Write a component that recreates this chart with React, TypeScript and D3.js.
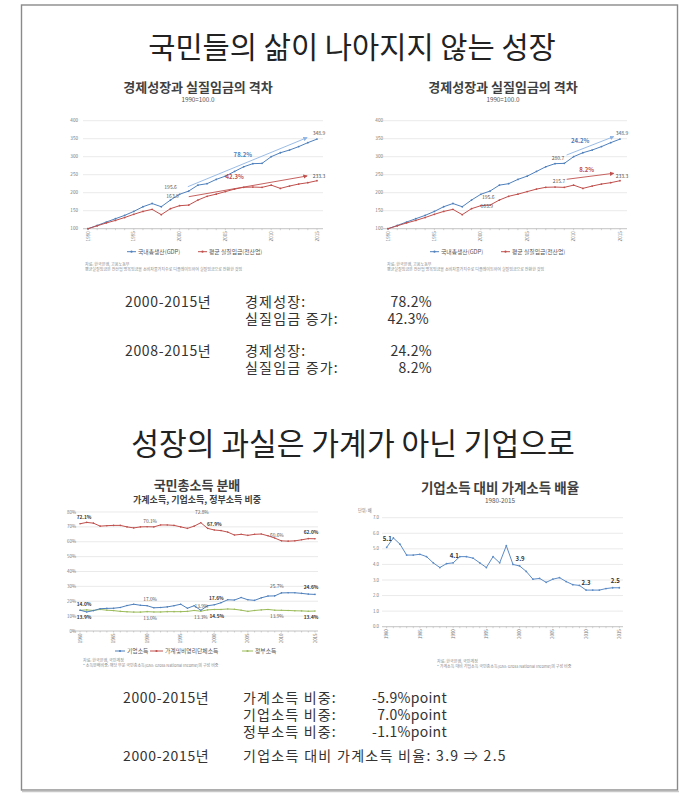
import React from "react";
import * as d3 from "d3";

const FONT = "'Noto Sans CJK KR','Noto Sans',sans-serif";

// ---------- Data: 경제성장과 실질임금 (1990=100) ----------
const indexYears = [1990, 1991, 1992, 1993, 1994, 1995, 1996, 1997, 1998, 1999, 2000, 2001, 2002, 2003, 2004, 2005, 2006, 2007, 2008, 2009, 2010, 2011, 2012, 2013, 2014, 2015];
const gdpIndex = [100, 109, 118.5, 127.8, 137, 148, 161, 170, 161, 179.6, 195.6, 204.6, 221, 225, 237, 246, 259, 272, 280.7, 281.5, 300, 311, 318.5, 328, 339, 348.9];
const wageIndex = [100, 108, 116, 123, 131, 140, 148, 153.7, 139, 155.6, 163.9, 165.7, 179.6, 190, 196, 203, 210, 215, 215.7, 214.8, 221, 212, 218.5, 224, 227.8, 233.3];
const indexTicks = [100, 150, 200, 250, 300, 350, 400];
const indexLabelYears = [1990, 1995, 2000, 2005, 2010, 2015];

// ---------- Data: 국민총소득 분배 (1980-2015) ----------
const shareYears = [1980, 1981, 1982, 1983, 1984, 1985, 1986, 1987, 1988, 1989, 1990, 1991, 1992, 1993, 1994, 1995, 1996, 1997, 1998, 1999, 2000, 2001, 2002, 2003, 2004, 2005, 2006, 2007, 2008, 2009, 2010, 2011, 2012, 2013, 2014, 2015];
const corpShare = [14.0, 12.8, 13.7, 15.0, 15.2, 15.3, 15.8, 17.1, 18.0, 17.3, 17.0, 15.6, 15.8, 16.2, 17.0, 18.0, 15.3, 17.0, 13.9, 17.0, 17.6, 19.0, 21.0, 20.8, 22.5, 21.0, 20.6, 22.3, 23.5, 23.6, 25.6, 25.7, 25.7, 25.3, 24.8, 24.6];
const householdShare = [72.1, 73.0, 72.5, 70.5, 70.8, 71.0, 71.0, 70.0, 69.3, 70.0, 70.1, 70.0, 71.3, 71.3, 71.0, 70.0, 69.0, 70.5, 72.8, 69.0, 67.9, 67.5, 66.5, 64.5, 65.0, 64.3, 65.0, 65.2, 64.0, 62.5, 60.6, 60.4, 60.6, 61.3, 62.1, 62.0];
const govShare = [13.9, 14.2, 13.8, 14.5, 14.0, 13.7, 13.2, 12.9, 12.7, 12.7, 13.0, 12.8, 12.8, 13.0, 13.0, 13.0, 13.2, 13.8, 13.3, 14.2, 14.5, 14.5, 14.8, 14.6, 14.0, 13.2, 13.8, 14.2, 14.5, 14.0, 13.9, 13.8, 13.6, 13.5, 13.3, 13.4];
const shareTicks = [0, 10, 20, 30, 40, 50, 60, 70, 80];

// ---------- Data: 기업소득 대비 가계소득 배율 ----------
const ratioValues = [5.1, 5.7, 5.3, 4.6, 4.6, 4.65, 4.5, 4.1, 3.8, 4.05, 4.1, 4.5, 4.5, 4.4, 4.1, 3.8, 4.5, 4.1, 5.2, 4.0, 3.9, 3.55, 3.05, 3.1, 2.85, 3.05, 3.15, 2.9, 2.7, 2.65, 2.35, 2.35, 2.35, 2.45, 2.5, 2.5];
const ratioTicks = [0, 1, 2, 3, 4, 5, 6, 7];
const longLabelYears = [1980, 1985, 1990, 1995, 2000, 2005, 2010, 2015];

// ---------- Colours ----------
const BLUE = "#4F81BD";
const RED = "#C0504D";
const GREEN = "#9BBB59";
const LIGHTBLUE = "#8EB4E3";

type Series = { values: number[]; color: string };
type PLabel = { year: number; value: number; text: string; dx: number; dy: number; color: string; bold?: boolean; size?: number };
type Arrow = { from: [number, number]; to: [number, number]; color: string; id: string };
type ALabel = { year: number; value: number; text: string; color: string };

type ChartProps = {
  years: number[];
  series: Series[];
  xRange: [number, number];
  yDomain: [number, number];
  yRange: [number, number];
  yTicks: number[];
  fmt: (v: number) => string;
  labelYears: number[];
  gridX: [number, number];
  yLabelX: number;
  tickSize: number;
  pointLabels: PLabel[];
  arrows?: Arrow[];
  arrowLabels?: ALabel[];
  marker: number;
};

function LineChart(p: ChartProps) {
  const x = d3.scaleLinear().domain([p.years[0], p.years[p.years.length - 1]]).range(p.xRange);
  const y = d3.scaleLinear().domain(p.yDomain).range(p.yRange);
  const line = d3
    .line<number>()
    .x((_, i) => x(p.years[i]))
    .y((d) => y(d));
  const axisY = y(p.yDomain[0]);
  return (
    <g fontFamily={FONT}>
      {p.yTicks.map((t) => (
        <g key={t}>
          {t !== p.yDomain[0] && (
            <line x1={p.gridX[0]} x2={p.gridX[1]} y1={y(t)} y2={y(t)} stroke="#dcdcdc" strokeWidth={0.6} />
          )}
          <text x={p.yLabelX} y={y(t) + 1.6} fontSize={p.tickSize} fill="#777" textAnchor="end">
            {p.fmt(t)}
          </text>
        </g>
      ))}
      <line x1={p.gridX[0]} x2={p.gridX[1]} y1={axisY} y2={axisY} stroke="#aaa" strokeWidth={0.7} />
      {p.years.map((yr) => (
        <line key={yr} x1={x(yr)} x2={x(yr)} y1={axisY} y2={axisY + 1.5} stroke="#aaa" strokeWidth={0.5} />
      ))}
      {p.labelYears.map((yr) => (
        <text
          key={yr}
          transform={`translate(${x(yr) + 1.6},${axisY + 2.5}) rotate(-90)`}
          fontSize={p.tickSize}
          fill="#777"
          textAnchor="end"
        >
          {yr}
        </text>
      ))}
      {(p.arrows || []).map((a) => (
        <g key={a.id}>
          <defs>
            <marker id={a.id} viewBox="0 0 10 10" refX={8} refY={5} markerWidth={5} markerHeight={5} orient="auto">
              <path d="M0,0 L10,5 L0,10 z" fill={a.color} />
            </marker>
          </defs>
          <line
            x1={x(a.from[0])}
            y1={y(a.from[1])}
            x2={x(a.to[0])}
            y2={y(a.to[1])}
            stroke={a.color}
            strokeWidth={0.9}
            markerEnd={`url(#${a.id})`}
          />
        </g>
      ))}
      {p.series.map((s, si) => (
        <g key={si}>
          <path d={line(s.values) || ""} fill="none" stroke={s.color} strokeWidth={1} />
          {s.values.map((v, i) => (
            <circle key={i} cx={x(p.years[i])} cy={y(v)} r={p.marker} fill={s.color} />
          ))}
        </g>
      ))}
      {p.pointLabels.map((l, i) => (
        <text
          key={i}
          x={x(l.year) + l.dx}
          y={y(l.value) + l.dy}
          fontSize={l.size || 5}
          fill={l.color}
          fontWeight={l.bold ? 700 : 400}
          textAnchor="middle"
        >
          {l.text}
        </text>
      ))}
      {(p.arrowLabels || []).map((l, i) => (
        <text key={i} x={x(l.year)} y={y(l.value) + 2} fontSize={6} fontWeight={700} fill={l.color} textAnchor="middle">
          {l.text}
        </text>
      ))}
    </g>
  );
}

function LegendItem({ x, y, color, text, len }: { x: number; y: number; color: string; text: string; len: number }) {
  return (
    <g fontFamily={FONT}>
      <line x1={x} x2={x + len} y1={y} y2={y} stroke={color} strokeWidth={1} />
      <circle cx={x + len / 2} cy={y} r={1.1} fill={color} />
      <text x={x + len + 2} y={y + 2} fontSize={5.8} fill="#555">
        {text}
      </text>
    </g>
  );
}

const idxFmt = (v: number) => String(v);
const pctFmt = (v: number) => `${v}%`;
const ratioFmt = (v: number) => v.toFixed(1);

export default function App() {
  const gapSeries: Series[] = [
    { values: gdpIndex, color: BLUE },
    { values: wageIndex, color: RED },
  ];
  const shareSeries: Series[] = [
    { values: govShare, color: GREEN },
    { values: corpShare, color: BLUE },
    { values: householdShare, color: RED },
  ];
  const textStyle = { fontFamily: FONT, fill: "#222" } as const;
  const g = "#333";
  const ko = { letterSpacing: 1.2 };
  const yr = { letterSpacing: 0.65 };
  const vl = { letterSpacing: 0.3 };
  return (
    <svg width={688} height={800} style={{ position: "absolute", left: 0, top: 0, background: "#fff" }}>
      <rect x={0} y={0} width={688} height={800} fill="#fff" />
      {/* frame */}
      <rect x={21.5} y={5} width={656} height={785} fill="none" stroke="#8a8a8a" strokeWidth={1.4} />
      <line x1={22} x2={679} y1={791.5} y2={791.5} stroke="#c8c8c8" strokeWidth={1.5} />

      {/* main titles */}
      <text x={352} y={57.5} fontSize={29.6} textAnchor="middle" {...textStyle}>
        국민들의 삶이 나아지지 않는 성장
      </text>
      <text x={353} y={455} fontSize={30.2} textAnchor="middle" {...textStyle}>
        성장의 과실은 가계가 아닌 기업으로
      </text>

      {/* chart 1 */}
      <text x={198} y={92} fontSize={13} fontWeight={700} fill="#404040" fontFamily={FONT} textAnchor="middle">
        경제성장과 실질임금의 격차
      </text>
      <text x={198} y={102} fontSize={6.3} fill="#555" fontFamily={FONT} textAnchor="middle">
        1990=100.0
      </text>
      <LineChart
        years={indexYears}
        series={gapSeries}
        xRange={[88, 317]}
        yDomain={[100, 400]}
        yRange={[228.7, 120.7]}
        yTicks={indexTicks}
        fmt={idxFmt}
        labelYears={indexLabelYears}
        gridX={[83, 323]}
        yLabelX={78}
        tickSize={4.6}
        marker={0.9}
        pointLabels={[
          { year: 2000, value: 195.6, text: "195.6", dx: -9, dy: -5, color: "#555" },
          { year: 2000, value: 163.9, text: "163.9", dx: -7, dy: -7.5, color: "#555" },
          { year: 2015, value: 348.9, text: "348.9", dx: 2, dy: -4, color: "#555" },
          { year: 2015, value: 233.3, text: "233.3", dx: 2, dy: -2.5, color: "#555" },
        ]}
        arrows={[
          { id: "a1b", from: [2000.9, 216.7], to: [2013.9, 352.8], color: LIGHTBLUE },
          { id: "a1r", from: [2001, 188.9], to: [2013.9, 246.4], color: RED },
        ]}
        arrowLabels={[
          { year: 2006.9, value: 304.7, text: "78.2%", color: BLUE },
          { year: 2006.0, value: 244.4, text: "42.3%", color: RED },
        ]}
      />
      <LegendItem x={127} y={251.7} color={BLUE} text="국내총생산(GDP)" len={9} />
      <LegendItem x={198} y={251.7} color={RED} text="평균 실질임금(전산업)" len={9} />
      <text x={85} y={266} fontSize={4} fill="#888" fontFamily={FONT}>자료: 한국은행, 고용노동부</text>
      <text x={85} y={271} fontSize={4} fill="#888" fontFamily={FONT}>
        평균실질임금은 전산업 명목임금을 소비자물가지수로 디플레이트하여 실질임금으로 전환한 것임
      </text>

      {/* chart 2 */}
      <text x={503} y={92} fontSize={13} fontWeight={700} fill="#404040" fontFamily={FONT} textAnchor="middle">
        경제성장과 실질임금의 격차
      </text>
      <text x={503} y={102} fontSize={6.3} fill="#555" fontFamily={FONT} textAnchor="middle">
        1990=100.0
      </text>
      <LineChart
        years={indexYears}
        series={gapSeries}
        xRange={[388, 620]}
        yDomain={[100, 400]}
        yRange={[228.7, 120.7]}
        yTicks={indexTicks}
        fmt={idxFmt}
        labelYears={indexLabelYears}
        gridX={[383, 627]}
        yLabelX={383}
        tickSize={4.6}
        marker={0.9}
        pointLabels={[
          { year: 2000, value: 195.6, text: "195.6", dx: 7.5, dy: 5, color: "#555" },
          { year: 2000, value: 163.9, text: "163.9", dx: 6, dy: 2.5, color: "#555" },
          { year: 2008, value: 280.7, text: "280.7", dx: 3, dy: -4, color: "#555" },
          { year: 2008, value: 215.7, text: "215.7", dx: 4, dy: -4, color: "#555" },
          { year: 2015, value: 348.9, text: "348.9", dx: 2, dy: -4, color: "#555" },
          { year: 2015, value: 233.3, text: "233.3", dx: 2, dy: -2.5, color: "#555" },
        ]}
        arrows={[
          { id: "a2b", from: [2009.25, 304.7], to: [2014.3, 355.6], color: LIGHTBLUE },
          { id: "a2r", from: [2009.25, 237.2], to: [2014.3, 253.9], color: RED },
        ]}
        arrowLabels={[
          { year: 2010.7, value: 344.4, text: "24.2%", color: BLUE },
          { year: 2011.4, value: 263, text: "8.2%", color: RED },
        ]}
      />
      <LegendItem x={430} y={251.7} color={BLUE} text="국내총생산(GDP)" len={9} />
      <LegendItem x={501} y={251.7} color={RED} text="평균 실질임금(전산업)" len={9} />
      <text x={387} y={266} fontSize={4} fill="#888" fontFamily={FONT}>자료: 한국은행, 고용노동부</text>
      <text x={387} y={271} fontSize={4} fill="#888" fontFamily={FONT}>
        평균실질임금은 전산업 명목임금을 소비자물가지수로 디플레이트하여 실질임금으로 전환한 것임
      </text>

      {/* text block 1 (one multi-line text) */}
      <text fontFamily={FONT} fontSize={14} fill={g}>
        <tspan x={125} y={307} {...yr}>2000-2015년</tspan>
        <tspan x={245} y={307} {...ko}>경제성장:</tspan>
        <tspan x={432} y={307} textAnchor="end" {...vl}>78.2%</tspan>
        <tspan x={245} y={324} {...ko}>실질임금 증가:</tspan>
        <tspan x={429} y={324} textAnchor="end" {...vl}>42.3%</tspan>
        <tspan x={125} y={356} {...yr}>2008-2015년</tspan>
        <tspan x={245} y={356} {...ko}>경제성장:</tspan>
        <tspan x={432} y={356} textAnchor="end" {...vl}>24.2%</tspan>
        <tspan x={245} y={373} {...ko}>실질임금 증가:</tspan>
        <tspan x={432} y={373} textAnchor="end" {...vl}>8.2%</tspan>
      </text>

      {/* chart 3 */}
      <text x={197} y={489.5} fontSize={13} fontWeight={700} fill="#404040" fontFamily={FONT} textAnchor="middle">
        국민총소득 분배
      </text>
      <text x={197} y={502.5} fontSize={9} fontWeight={700} fill="#404040" fontFamily={FONT} textAnchor="middle">
        가계소득, 기업소득, 정부소득 비중
      </text>
      <LineChart
        years={shareYears}
        series={shareSeries}
        xRange={[80, 315]}
        yDomain={[0, 80]}
        yRange={[631, 512]}
        yTicks={shareTicks}
        fmt={pctFmt}
        labelYears={longLabelYears}
        gridX={[72, 318]}
        yLabelX={76}
        tickSize={4.4}
        marker={0.8}
        pointLabels={[
          { year: 1980, value: 72.1, text: "72.1%", dx: 4, dy: -4.5, color: "#333", bold: true, size: 4.8 },
          { year: 1990, value: 70.1, text: "70.1%", dx: 3, dy: -4, color: "#555", size: 4.8 },
          { year: 1998, value: 72.8, text: "72.8%", dx: 1, dy: -8.5, color: "#555", size: 4.8 },
          { year: 2000, value: 67.9, text: "67.9%", dx: 0, dy: -3.5, color: "#333", bold: true, size: 4.8 },
          { year: 2010, value: 60.6, text: "60.6%", dx: -4.5, dy: -3.5, color: "#555", size: 4.8 },
          { year: 2015, value: 62.0, text: "62.0%", dx: -4, dy: -4.5, color: "#333", bold: true, size: 4.8 },
          { year: 1980, value: 14.0, text: "14.0%", dx: 4, dy: -4.5, color: "#333", bold: true, size: 4.8 },
          { year: 1990, value: 17.0, text: "17.0%", dx: 3, dy: -5, color: "#555", size: 4.8 },
          { year: 1998, value: 13.9, text: "13.9%", dx: 0.5, dy: -2.5, color: "#555", size: 4.8 },
          { year: 2000, value: 17.6, text: "17.6%", dx: 2, dy: -5, color: "#333", bold: true, size: 4.8 },
          { year: 2010, value: 25.6, text: "25.7%", dx: -4.5, dy: -5, color: "#555", size: 4.8 },
          { year: 2015, value: 24.6, text: "24.6%", dx: -4, dy: -5, color: "#333", bold: true, size: 4.8 },
          { year: 1980, value: 13.9, text: "13.9%", dx: 4, dy: 8.5, color: "#333", bold: true, size: 4.8 },
          { year: 1990, value: 13.0, text: "13.0%", dx: 3, dy: 8, color: "#555", size: 4.8 },
          { year: 1998, value: 13.3, text: "13.3%", dx: 0, dy: 8, color: "#555", size: 4.8 },
          { year: 2000, value: 14.5, text: "14.5%", dx: 2.5, dy: 8.5, color: "#333", bold: true, size: 4.8 },
          { year: 2010, value: 13.9, text: "13.9%", dx: -4.5, dy: 8, color: "#555", size: 4.8 },
          { year: 2015, value: 13.4, text: "13.4%", dx: -4, dy: 8, color: "#333", bold: true, size: 4.8 },
        ]}
      />
      <LegendItem x={115} y={651} color={BLUE} text="기업소득" len={10} />
      <LegendItem x={150} y={651} color={RED} text="가계및비영리단체소득" len={13} />
      <LegendItem x={242} y={651} color={GREEN} text="정부소득" len={11} />
      <text x={83} y={662} fontSize={4} fill="#888" fontFamily={FONT}>자료: 한국은행, 국민계정</text>
      <text x={83} y={667} fontSize={4} fill="#888" fontFamily={FONT}>
        * 소득분배비중: 해당 부문 국민총소득(GNI: Gross National Income)의 구성 비중
      </text>

      {/* chart 4 */}
      <text x={500} y={492.5} fontSize={13.5} fontWeight={700} fill="#404040" fontFamily={FONT} textAnchor="middle">
        기업소득 대비 가계소득 배율
      </text>
      <text x={500} y={502.5} fontSize={6.3} fill="#555" fontFamily={FONT} textAnchor="middle">
        1980-2015
      </text>
      <text x={358} y={512.3} fontSize={4.2} fill="#777" fontFamily={FONT}>단위: 배</text>
      <LineChart
        years={shareYears}
        series={[{ values: ratioValues, color: "#5B8BC6" }]}
        xRange={[386.7, 619.3]}
        yDomain={[0, 7]}
        yRange={[626.7, 517.7]}
        yTicks={ratioTicks}
        fmt={ratioFmt}
        labelYears={longLabelYears}
        gridX={[382, 623]}
        yLabelX={379}
        tickSize={4.4}
        marker={0.9}
        pointLabels={[
          { year: 1980, value: 5.1, text: "5.1", dx: 0.5, dy: -6, color: "#333", bold: true, size: 6 },
          { year: 1990, value: 4.1, text: "4.1", dx: 1, dy: -5, color: "#333", bold: true, size: 6 },
          { year: 2000, value: 3.9, text: "3.9", dx: 0.5, dy: -5, color: "#333", bold: true, size: 6 },
          { year: 2010, value: 2.35, text: "2.3", dx: 0, dy: -5, color: "#333", bold: true, size: 6 },
          { year: 2015, value: 2.5, text: "2.5", dx: -4, dy: -5, color: "#333", bold: true, size: 6 },
        ]}
      />
      <text x={437} y={663} fontSize={4} fill="#888" fontFamily={FONT}>자료: 한국은행, 국민계정</text>
      <text x={437} y={668} fontSize={4} fill="#888" fontFamily={FONT}>
        * 가계소득 대비 기업소득 국민총소득(GNI: Gross National Income)의 구성 비중
      </text>

      {/* text block 2 (one multi-line text) */}
      <text fontFamily={FONT} fontSize={14} fill={g}>
        <tspan x={123} y={703} {...yr}>2000-2015년</tspan>
        <tspan x={243} y={703} {...ko}>가계소득 비중:</tspan>
        <tspan x={447} y={703} textAnchor="end" {...vl}>-5.9%point</tspan>
        <tspan x={243} y={720} {...ko}>기업소득 비중:</tspan>
        <tspan x={447} y={720} textAnchor="end" {...vl}>7.0%point</tspan>
        <tspan x={243} y={737} {...ko}>정부소득 비중:</tspan>
        <tspan x={447} y={737} textAnchor="end" {...vl}>-1.1%point</tspan>
        <tspan x={123} y={761} {...yr}>2000-2015년</tspan>
        <tspan x={243} y={761} letterSpacing={1.3}>기업소득 대비 가계소득 비율: 3.9 ⇒ 2.5</tspan>
      </text>
    </svg>
  );
}
